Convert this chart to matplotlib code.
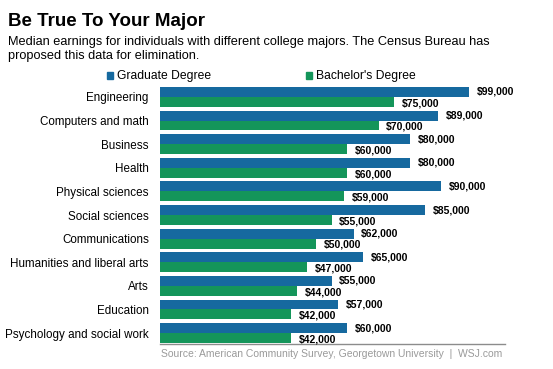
import matplotlib.pyplot as plt
import numpy as np

majors = ["Engineering", "Computers and math", "Business", "Health",
          "Physical sciences", "Social sciences", "Communications",
          "Humanities and liberal arts", "Arts", "Education",
          "Psychology and social work"]
graduate = [99000, 89000, 80000, 80000, 90000, 85000, 62000, 65000, 55000, 57000, 60000]
bachelor = [75000, 70000, 60000, 60000, 59000, 55000, 50000, 47000, 44000, 42000, 42000]

blue = "#16699f"
green = "#14955a"

plt.rcParams['font.family'] = ['Liberation Sans', 'DejaVu Sans']

fig = plt.figure(figsize=(5.53, 3.69), dpi=100)
ax = fig.add_axes([0.2893, 0.0678, 0.6239, 0.699])

y = np.arange(len(majors))
h = 0.42
ax.barh(y - h / 2, graduate, height=h, color=blue)
ax.barh(y + h / 2, bachelor, height=h, color=green)

# value labels
for i in range(len(majors)):
    ax.annotate(f"${graduate[i]:,}", (graduate[i], y[i] - h / 2), xytext=(5.5, 0),
                textcoords="offset points", va="center", ha="left", fontsize=7.5,
                fontweight="bold")
    ax.annotate(f"${bachelor[i]:,}", (bachelor[i], y[i] + h / 2), xytext=(5.5, -1),
                textcoords="offset points", va="center", ha="left", fontsize=7.5,
                fontweight="bold")

ax.set_xlim(0, 110500)
ax.set_ylim(10.46, -0.46)
ax.set_yticks(y)
ax.set_yticklabels(majors, fontsize=8.4)
ax.tick_params(axis="y", length=0, pad=8)
ax.set_xticks([])
for s in ["top", "right", "left"]:
    ax.spines[s].set_visible(False)
ax.spines["bottom"].set_color("#8c8c8c")
ax.spines["bottom"].set_linewidth(1)

# titles and legend
fig.text(8 / 553, 1 - 26 / 369, "Be True To Your Major", fontsize=13.5,
         fontweight="bold", va="baseline")
fig.text(8 / 553, 1 - 45 / 369, "Median earnings for individuals with different college majors. "
         "The Census Bureau has", fontsize=9.2, va="baseline")
fig.text(8 / 553, 1 - 59 / 369, "proposed this data for elimination.", fontsize=9.2,
         va="baseline")

fig.patches.append(plt.Rectangle((107 / 553, 1 - 79 / 369), 6 / 553, 7 / 369,
                                 color=blue, transform=fig.transFigure))
fig.text(117 / 553, 1 - 76 / 369, "Graduate Degree", fontsize=8.7, va="center")
fig.patches.append(plt.Rectangle((306 / 553, 1 - 79 / 369), 6 / 553, 7 / 369,
                                 color=green, transform=fig.transFigure))
fig.text(316 / 553, 1 - 76 / 369, "Bachelor's Degree", fontsize=8.7, va="center")

fig.text(161 / 553, 1 - 354 / 369,
         "Source: American Community Survey, Georgetown University  |  WSJ.com",
         fontsize=7.5, color="#9a9a9a", va="center")

fig.savefig("out.png", dpi=100)
